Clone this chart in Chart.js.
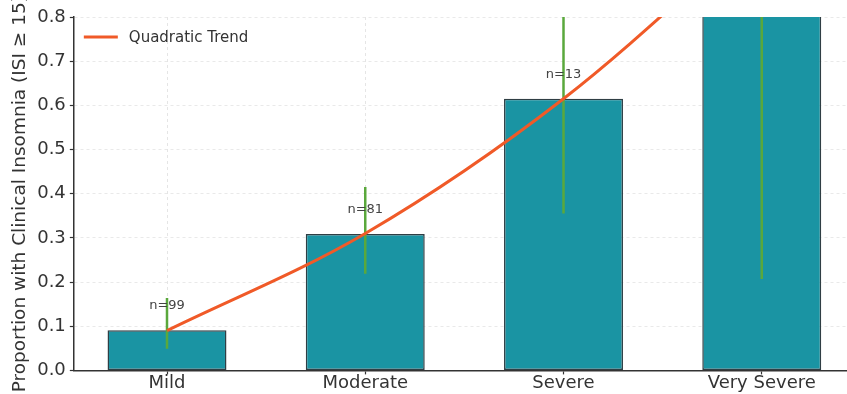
<!DOCTYPE html>
<html>
<head>
<meta charset="utf-8">
<script src="https://cdn.jsdelivr.net/npm/chart.js@4"></script>
<style>
  html, body { margin: 0; padding: 0; background: #fff; }
  #wrap { width: 847px; height: 394px; }
</style>
</head>
<body>
<div id="wrap"><canvas id="chart"></canvas></div>
<script>
const categories = ['Mild', 'Moderate', 'Severe', 'Very Severe'];
const proportions = [0.091, 0.309, 0.615, 1.0];
const ciLow = [0.049, 0.219, 0.355, 0.207];
const ciHigh = [0.164, 0.415, 0.823, 1.0];
const sampleSizes = [99, 81, 13, 1];
const trendValues = [0.09, 0.31, 0.615, 1.005];
const yTicks = [0, 0.1, 0.2, 0.3, 0.4, 0.5, 0.6, 0.7, 0.8];

const font = 'DejaVu Sans';
const textColor = '#333';

// error bars + n= labels, drawn right after the bars
const extras = {
  id: 'extras',
  afterDatasetDraw(chart, args) {
    if (args.index !== 0) return;
    const { ctx, chartArea, scales } = chart;
    const x = scales.x, y = scales.y;
    ctx.save();
    ctx.beginPath();
    ctx.rect(chartArea.left, chartArea.top, chartArea.right - chartArea.left, chartArea.bottom - chartArea.top);
    ctx.clip();
    ctx.strokeStyle = '#5aa83c';
    ctx.lineWidth = 2.5;
    categories.forEach((c, i) => {
      const px = x.getPixelForValue(i);
      ctx.beginPath();
      ctx.moveTo(px, y.getPixelForValue(ciLow[i]));
      ctx.lineTo(px, y.getPixelForValue(ciHigh[i]));
      ctx.stroke();
    });
    ctx.fillStyle = '#444';
    ctx.font = '13px "' + font + '"';
    ctx.textAlign = 'center';
    ctx.textBaseline = 'middle';
    categories.forEach((c, i) => {
      ctx.fillText('n=' + sampleSizes[i], x.getPixelForValue(i), y.getPixelForValue(proportions[i] + 0.055));
    });
    ctx.restore();
  },
  afterDraw(chart) {
    const { ctx, chartArea } = chart;
    const ds = chart.data.datasets[1];
    ctx.save();
    ctx.strokeStyle = ds.borderColor;
    ctx.lineWidth = 3;
    ctx.beginPath();
    ctx.moveTo(chartArea.left + 10, chartArea.top + 20);
    ctx.lineTo(chartArea.left + 44, chartArea.top + 20);
    ctx.stroke();
    ctx.fillStyle = textColor;
    ctx.font = '15px "' + font + '"';
    ctx.textBaseline = 'middle';
    ctx.fillText(ds.label, chartArea.left + 55, chartArea.top + 21);
    ctx.restore();
  }
};

new Chart(document.getElementById('chart'), {
  type: 'bar',
  data: {
    datasets: [
      {
        label: 'Proportion',
        data: proportions.map((p, i) => ({ x: i, y: p })),
        backgroundColor: '#1a94a3',
        borderColor: '#2f3e44',
        borderWidth: 1.5,
        borderSkipped: false,
        categoryPercentage: 1,
        barPercentage: 0.6,
        order: 1
      },
      {
        type: 'line',
        label: 'Quadratic Trend',
        data: trendValues.map((v, i) => ({ x: i, y: v })),
        borderColor: '#f05a28',
        borderWidth: 3,
        pointRadius: 0,
        cubicInterpolationMode: 'monotone',
        fill: false,
        order: 0
      }
    ]
  },
  options: {
    responsive: true,
    maintainAspectRatio: false,
    animation: false,
    layout: { padding: { top: 17, right: 0, left: 9, bottom: 2 } },
    plugins: {
      legend: { display: false },
      tooltip: { enabled: false }
    },
    scales: {
      x: {
        type: 'linear',
        min: -0.47,
        max: 3.43,
        offset: false,
        z: 1,
        afterBuildTicks: s => { s.ticks = categories.map((c, i) => ({ value: i })); },
        ticks: {
          callback: v => categories[v],
          color: textColor,
          font: { family: font, size: 18 },
          padding: -2,
          maxRotation: 0
        },
        grid: {
          offset: false,
          color: 'rgba(200,200,200,0.6)',
          lineWidth: 0.8,
          tickColor: textColor,
          tickLength: 4,
          tickWidth: 1.2
        },
        border: { display: true, color: textColor, width: 1.5, dash: [3, 3] }
      },
      y: {
        min: 0,
        max: 0.8,
        afterBuildTicks: s => { s.ticks = yTicks.map(v => ({ value: v })); },
        ticks: {
          callback: v => v.toFixed(1),
          color: textColor,
          font: { family: font, size: 18 },
          padding: 4
        },
        grid: {
          color: '#e4e4e4',
          lineWidth: 0.8,
          tickColor: textColor,
          tickLength: 4,
          tickWidth: 1.2
        },
        border: { display: true, color: textColor, width: 1.5, dash: [3, 3] },
        title: {
          display: true,
          text: 'Proportion with Clinical Insomnia (ISI ≥ 15)',
          color: textColor,
          font: { family: font, size: 18.5 },
          padding: { top: 0, bottom: 2 }
        }
      }
    }
  },
  plugins: [extras]
});
</script>
</body>
</html>
